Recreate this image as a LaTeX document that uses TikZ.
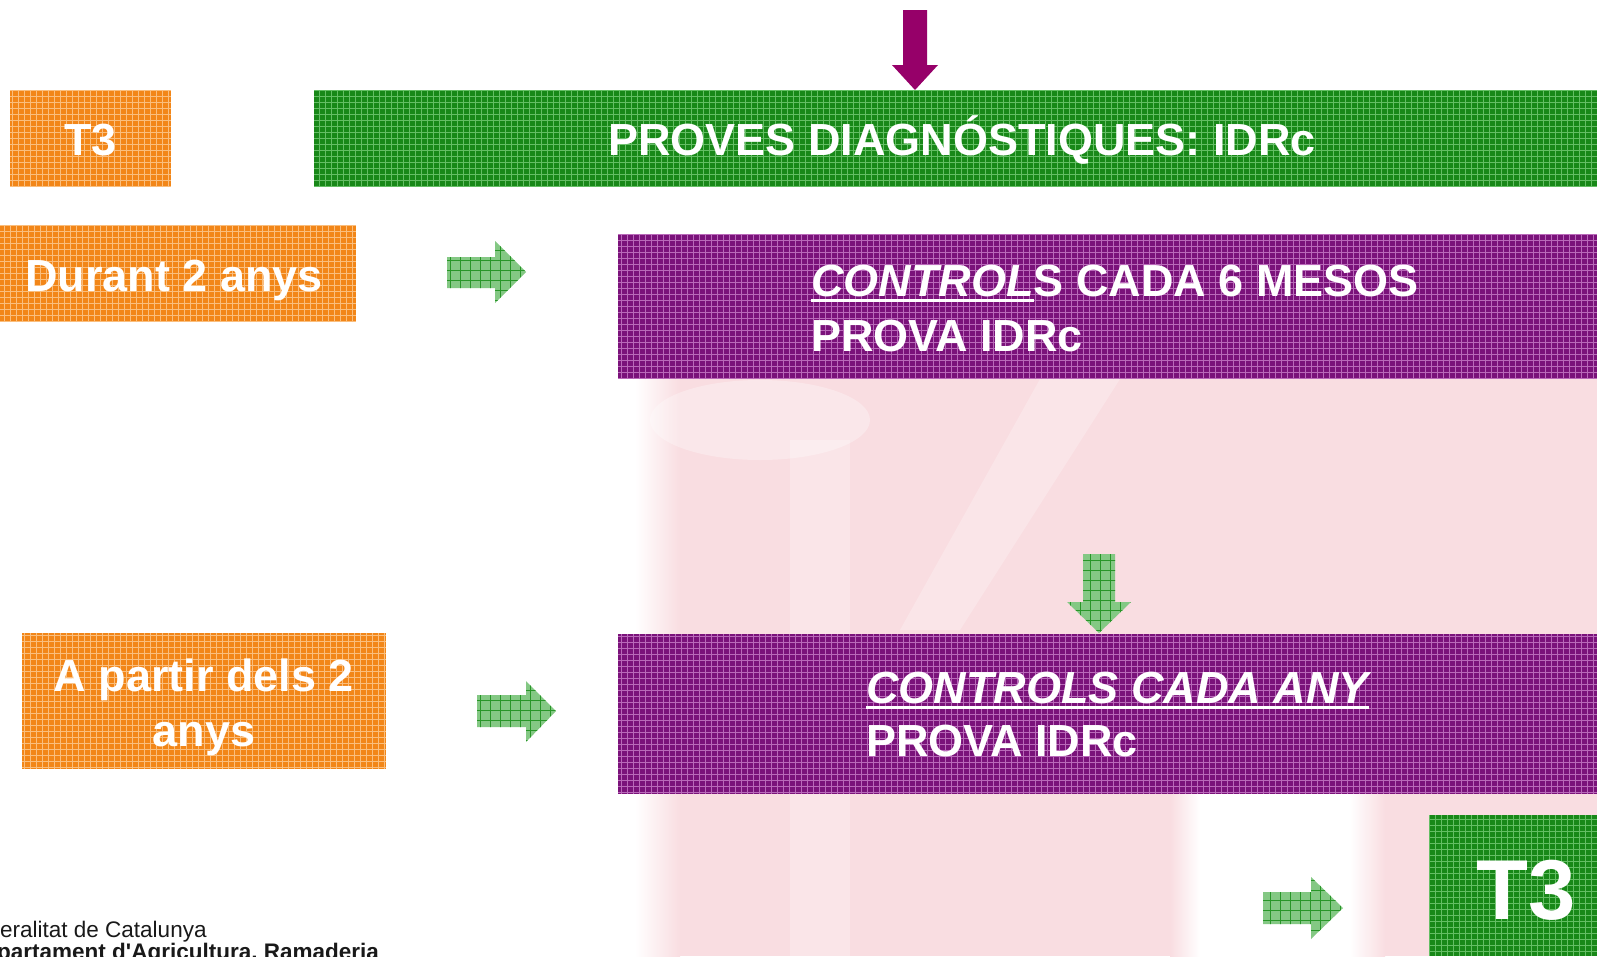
\documentclass[tikz,border=0pt]{standalone}
\usepackage{fontspec}
\setmainfont{Liberation Sans}
\definecolor{orgbase}{RGB}{242,134,24}
\definecolor{orgline}{RGB}{250,190,125}
\definecolor{grnbase}{RGB}{24,136,24}
\definecolor{grnline}{RGB}{100,190,100}
\definecolor{purbase}{RGB}{122,18,122}
\definecolor{purline}{RGB}{185,105,185}
\definecolor{arrpur}{RGB}{150,0,105}
\definecolor{arrgfill}{RGB}{132,200,132}
\definecolor{arrgline}{RGB}{40,150,40}
\definecolor{wmpink}{RGB}{249,221,225}
\definecolor{foot}{RGB}{25,25,25}
\newcommand\ulrule[1]{\setbox0\hbox{#1}\rlap{\rule[-6pt]{\wd0}{3pt}}\box0}
\tikzset{
  texbox/.style={draw=none, inner sep=0pt, anchor=north west,
    path picture={\draw[#1, line width=0.9pt, step=6pt]
      (path picture bounding box.south west) grid (path picture bounding box.north east);}},
  orgbox/.style={texbox=orgline, fill=orgbase},
  grnbox/.style={texbox=grnline, fill=grnbase},
  purbox/.style={texbox=purline, fill=purbase},
  wtxt/.style={text=white, inner sep=0pt, font=\bfseries\fontsize{45}{54}\selectfont},
  bigtxt/.style={text=white, inner sep=0pt, font=\bfseries\fontsize{85}{96}\selectfont},
  foottxt/.style={text=foot, inner sep=0pt, align=left, font=\fontsize{22.5}{18.5}\selectfont},
  garrow/.style={fill=arrgfill, draw=none,
    path picture={\draw[arrgline, line width=1pt, step=10pt]
      (path picture bounding box.south west) grid (path picture bounding box.north east);}},
  parrow/.style={fill=arrpur, draw=none}
}
\begin{document}
\begin{tikzpicture}[x=1pt,y=-1pt]
\useasboundingbox (0,0) rectangle (1597,956);
\fill[white] (0,0) rectangle (1597,956);
% faint watermark
\fill[wmpink] (655,379) rectangle (1597,956);
\shade[left color=white, right color=wmpink] (635,379) rectangle (680,956);
\fill[white] (1200,794) rectangle (1350,956);
\shade[left color=wmpink, right color=white] (1170,794) rectangle (1200,956);
\shade[left color=white, right color=wmpink] (1350,794) rectangle (1385,956);
\fill[white, opacity=0.3] (760,420) ellipse [x radius=110pt, y radius=40pt];
\fill[white, opacity=0.25] (790,440) rectangle (850,956);
\fill[white, opacity=0.25] (1040,379) -- (1120,379) -- (960,630) -- (900,630) -- cycle;
% boxes
\node[orgbox, minimum width=161pt, minimum height=97pt] (t3a) at (10,90) {};
\node[grnbox, minimum width=1283pt, minimum height=97pt] (hdr) at (314,90) {};
\node[orgbox, minimum width=356pt, minimum height=97pt] (dur) at (0,225) {};
\node[purbox, minimum width=979pt, minimum height=145pt] (pur1) at (618,234) {};
\node[orgbox, minimum width=364pt, minimum height=136pt] (apd) at (22,633) {};
\node[purbox, minimum width=979pt, minimum height=160pt] (pur2) at (618,634) {};
\node[grnbox, minimum width=168pt, minimum height=141pt] (t3b) at (1429,815) {};
% texts
\node[wtxt, anchor=base] (t3atx) at (90.5,155) {T3};
\node[wtxt, anchor=base west] (hdrtx) at (608,155) {PROVES DIAGNÓSTIQUES: IDRc};
\node[wtxt, anchor=base west] (durtx) at (25,291) {Durant 2 anys};
\node[wtxt, anchor=base west] (p1a) at (811,296) {\ulrule{\itshape CONTROL}S CADA 6 MESOS};
\node[wtxt, anchor=base west] (p1b) at (811,351) {PROVA IDRc};
\node[wtxt, anchor=base] (apda) at (204,691) {A partir dels 2};
\node[wtxt, anchor=base] (apdb) at (204,746) {anys};
\node[wtxt, anchor=base west] (p2a) at (866,703) {\ulrule{\itshape CONTROLS CADA ANY}};
\node[wtxt, anchor=base west] (p2b) at (866,756) {PROVA IDRc};
\node[bigtxt, anchor=base] (t3btx) at (1526,919) {T3};
\node[foottxt, anchor=base west] (foot) at (0,959.5) {eralitat de Catalunya\\\hspace*{-3pt}\bfseries partament d\textquotesingle Agricultura, Ramaderia};
% block arrows
\fill[parrow] (903,10) -- (927,10) -- (927,65) -- (938,65) -- (915,90) -- (892,65) -- (903,65) -- cycle;
\path[garrow] (447,257) -- (495,257) -- (495,241) -- (526,272) -- (495,303) -- (495,288) -- (447,288) -- cycle;
\path[garrow] (1083,554) -- (1115,554) -- (1115,602) -- (1131,602) -- (1099,633) -- (1067,602) -- (1083,602) -- cycle;
\path[garrow] (477,695) -- (526,695) -- (526,681) -- (556,711) -- (526,742) -- (526,727) -- (477,727) -- cycle;
\path[garrow] (1263,892) -- (1311,892) -- (1311,877) -- (1343,908) -- (1311,939) -- (1311,924) -- (1263,924) -- cycle;
\end{tikzpicture}
\end{document}
